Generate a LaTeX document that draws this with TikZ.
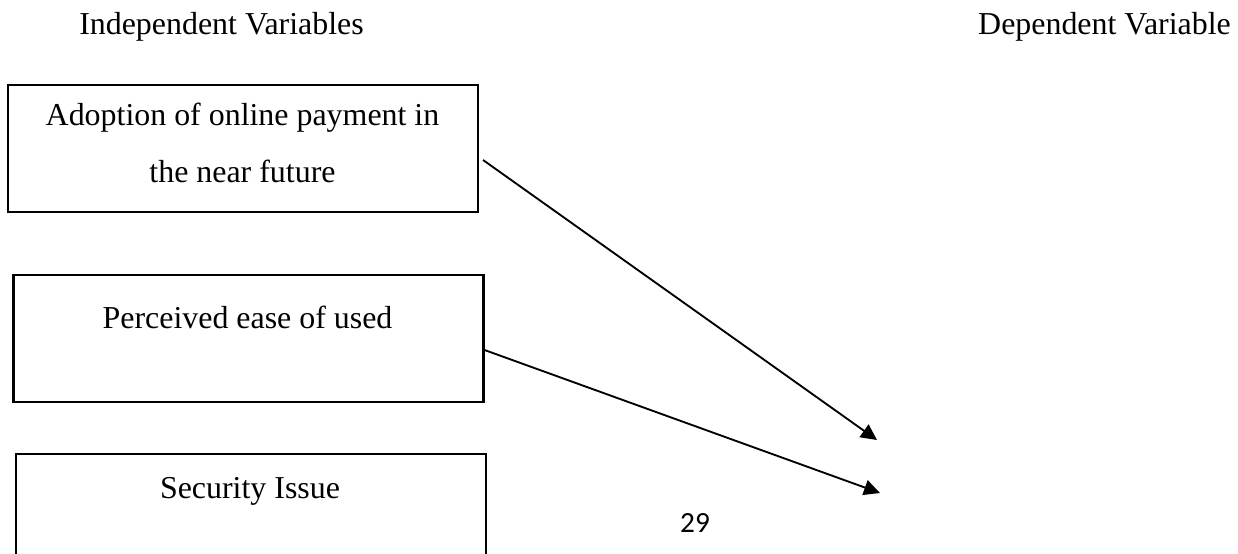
\documentclass[tikz,border=0pt]{standalone}
\usepackage{fontspec}
\setmainfont{Liberation Serif}
\newfontfamily\pagenofont{Carlito}
\usetikzlibrary{arrows.meta, positioning}

\begin{document}
\begin{tikzpicture}[x=0.376pt, y=-0.376pt,
    varbox/.style={draw, line width=0.8pt, minimum width=176.7pt, minimum height=47.75pt, inner sep=0pt},
    lbl/.style={anchor=base, inner sep=0pt, font=\fontsize{12}{14}\selectfont},
    link/.style={line width=0.7pt, -{Triangle[length=6pt, width=5.8pt]}}]
            % Page limits
            \useasboundingbox (0,0) rectangle (1238,554);
            \clip (0,0) rectangle (1238,554);

            % Headings
            \node[lbl] (indep) at (221.5,35) {Independent Variables};
            \node[lbl] (dep) at (1104.5,35) {Dependent Variable};

            % Draw boxes
            \node[varbox] (adopt) at (243,148.5) {};
            \node[varbox] (ease) at (248.5,338.5) {};
            \node[varbox] (secur) at (251,517.5) {};

            % Box texts
            \node[lbl] (adopta) at (242.5,126) {Adoption of online payment in};
            \node[lbl] (adoptb) at (242.5,182) {the near future};
            \node[lbl] (easet) at (247.5,328) {Perceived ease of used};
            \node[lbl] (securt) at (250,498) {Security Issue};

            % Arrow ends
            \coordinate (dv1) at (877,440);
            \coordinate (dv2) at (880,493);

            % Draw arrows
            \draw[link] ([shift={(4,11.5)}]adopt.east) -- (dv1);
            \draw[link] ([shift={(0,11.5)}]ease.east) -- (dv2);

            % Page number
            \node[anchor=base, inner sep=0pt, font=\pagenofont\fontsize{11}{13}\selectfont] (pageno) at (695,532) {29};
        \end{tikzpicture}
\end{document}
